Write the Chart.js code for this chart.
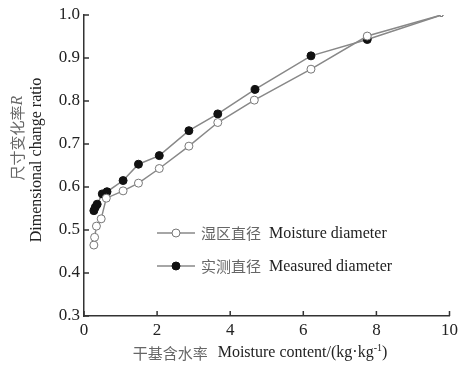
<!DOCTYPE html>
<html>
<head>
<meta charset="utf-8">
<script src="https://cdn.jsdelivr.net/npm/chart.js@4/dist/chart.umd.min.js"></script>
<style>
  html, body { margin: 0; padding: 0; background: #fff; }
  #wrap { width: 462px; height: 370px; position: relative; }
</style>
</head>
<body>
<div id="wrap"><canvas id="chart" width="462" height="370"></canvas></div>
<script>
// Moisture diameter (open circles)
const moistX = [0.27, 0.29, 0.34, 0.47, 0.61, 1.07, 1.49, 2.06, 2.87, 3.66, 4.66, 6.21, 7.75, 9.78];
const moistY = [0.465, 0.483, 0.509, 0.526, 0.574, 0.591, 0.609, 0.643, 0.695, 0.750, 0.802, 0.874, 0.951, 1.0];
// Measured diameter (filled circles)
const measX = [0.27, 0.31, 0.36, 0.50, 0.63, 1.07, 1.49, 2.06, 2.87, 3.66, 4.68, 6.21, 7.75, 9.78];
const measY = [0.545, 0.553, 0.560, 0.584, 0.589, 0.615, 0.653, 0.673, 0.731, 0.770, 0.827, 0.905, 0.943, 1.0];

const xTicks = [0, 2, 4, 6, 8, 10];
const yTicks = [0.3, 0.4, 0.5, 0.6, 0.7, 0.8, 0.9, 1.0];

const legendItems = [
  { cn: '湿区直径', en: 'Moisture diameter', fill: '#fff' },
  { cn: '实测直径', en: 'Measured diameter', fill: '#111' }
];

const serif = '"Liberation Serif", "DejaVu Serif", serif';
const cjk = '"Noto Sans CJK SC", sans-serif';

function toPoints(xs, ys) {
  return xs.map((x, i) => ({ x: x, y: ys[i] }));
}

// last point is only a small end mark in the original
function radii(n) {
  return Array(n).fill(4).map((r, i) => i === n - 1 ? 1.5 : r);
}

// inward tick marks, axis titles and legend
const decorations = {
  id: 'decorations',
  afterDraw(chart) {
    const ctx = chart.ctx;
    const xs = chart.scales.x, ys = chart.scales.y;
    const area = chart.chartArea;
    ctx.save();
    ctx.strokeStyle = '#333';
    ctx.lineWidth = 1.5;
    ctx.beginPath();
    xTicks.forEach(v => {
      const px = xs.getPixelForValue(v);
      ctx.moveTo(px, area.bottom);
      ctx.lineTo(px, area.bottom - 5);
    });
    yTicks.forEach(v => {
      const py = ys.getPixelForValue(v);
      ctx.moveTo(area.left, py);
      ctx.lineTo(area.left + 5, py);
    });
    ctx.stroke();

    // y axis title (two rotated lines)
    ctx.fillStyle = '#666';
    ctx.textBaseline = 'middle';
    ctx.textAlign = 'center';
    ctx.save();
    ctx.translate(17, 138);
    ctx.rotate(-Math.PI / 2);
    ctx.font = '15px ' + cjk;
    const cnW = ctx.measureText('尺寸变化率').width;
    ctx.font = 'italic 16px ' + serif;
    const rW = ctx.measureText('R').width;
    let start = -(cnW + rW) / 2;
    ctx.textAlign = 'left';
    ctx.font = '15px ' + cjk;
    ctx.fillText('尺寸变化率', start, 0);
    ctx.font = 'italic 16px ' + serif;
    ctx.fillText('R', start + cnW, 1);
    ctx.restore();

    ctx.save();
    ctx.translate(37, 160);
    ctx.rotate(-Math.PI / 2);
    ctx.textAlign = 'center';
    ctx.fillStyle = '#222';
    ctx.font = '16px ' + serif;
    ctx.fillText('Dimensional change ratio', 0, 0);
    ctx.restore();

    // x axis title
    ctx.font = '15px ' + cjk;
    const xcn = '干基含水率';
    const xen = 'Moisture content/(kg·kg';
    const cw = ctx.measureText(xcn).width;
    ctx.font = '16px ' + serif;
    const ew = ctx.measureText(xen).width;
    ctx.font = '10px ' + serif;
    const sw = ctx.measureText('-1').width;
    ctx.font = '16px ' + serif;
    const pw = ctx.measureText(')').width;
    const gap = 10;
    let x0 = 260 - (cw + gap + ew + sw + pw) / 2;
    const ty = 353;
    ctx.textAlign = 'left';
    ctx.fillStyle = '#666';
    ctx.font = '15px ' + cjk;
    ctx.fillText(xcn, x0, ty);
    x0 += cw + gap;
    ctx.fillStyle = '#222';
    ctx.font = '16px ' + serif;
    ctx.fillText(xen, x0, ty);
    x0 += ew;
    ctx.font = '10px ' + serif;
    ctx.fillText('-1', x0, ty - 5);
    x0 += sw;
    ctx.font = '16px ' + serif;
    ctx.fillText(')', x0, ty);

    // legend
    legendItems.forEach((item, i) => {
      const ly = 233 + i * 33;
      ctx.strokeStyle = '#888';
      ctx.lineWidth = 1.5;
      ctx.beginPath();
      ctx.moveTo(157, ly);
      ctx.lineTo(195, ly);
      ctx.stroke();
      ctx.beginPath();
      ctx.arc(176, ly, 4, 0, Math.PI * 2);
      ctx.fillStyle = item.fill;
      ctx.fill();
      ctx.strokeStyle = item.fill === '#fff' ? '#777' : '#111';
      ctx.lineWidth = 1;
      ctx.stroke();
      ctx.fillStyle = '#666';
      ctx.font = '15px ' + cjk;
      ctx.fillText(item.cn, 201, ly);
      const w = ctx.measureText(item.cn).width;
      ctx.fillStyle = '#222';
      ctx.font = '16px ' + serif;
      ctx.fillText(item.en, 201 + w + 8, ly + 1);
    });
    ctx.restore();
  }
};

new Chart(document.getElementById('chart'), {
  type: 'scatter',
  data: {
    datasets: [
      {
        label: '湿区直径 Moisture diameter',
        data: toPoints(moistX, moistY),
        showLine: true,
        borderColor: '#888',
        borderWidth: 1.5,
        pointBackgroundColor: '#fff',
        pointBorderColor: '#777',
        pointBorderWidth: 1,
        pointRadius: radii(moistX.length)
      },
      {
        label: '实测直径 Measured diameter',
        data: toPoints(measX, measY),
        showLine: true,
        borderColor: '#888',
        borderWidth: 1.5,
        pointBackgroundColor: '#111',
        pointBorderColor: '#111',
        pointBorderWidth: 1,
        pointRadius: radii(measX.length)
      }
    ]
  },
  options: {
    responsive: false,
    animation: false,
    layout: { padding: { top: 15, right: 9, left: 0, bottom: 0 } },
    plugins: { legend: { display: false }, tooltip: { enabled: false } },
    scales: {
      x: {
        type: 'linear',
        min: 0,
        max: 10,
        afterFit(scale) { scale.height = 54; },
        afterBuildTicks(scale) { scale.ticks = xTicks.map(v => ({ value: v })); },
        grid: { display: false, drawTicks: false },
        border: { display: true, color: '#333', width: 1.5 },
        ticks: { color: '#222', font: { family: serif, size: 17 }, padding: 4 }
      },
      y: {
        type: 'linear',
        min: 0.3,
        max: 1.0,
        afterFit(scale) { scale.width = 84; },
        afterBuildTicks(scale) { scale.ticks = yTicks.map(v => ({ value: v })); },
        grid: { display: false, drawTicks: false },
        border: { display: true, color: '#333', width: 1.5 },
        ticks: {
          color: '#222',
          font: { family: serif, size: 17 },
          padding: 4,
          callback: v => v.toFixed(1)
        }
      }
    }
  },
  plugins: [decorations]
});
</script>
</body>
</html>
